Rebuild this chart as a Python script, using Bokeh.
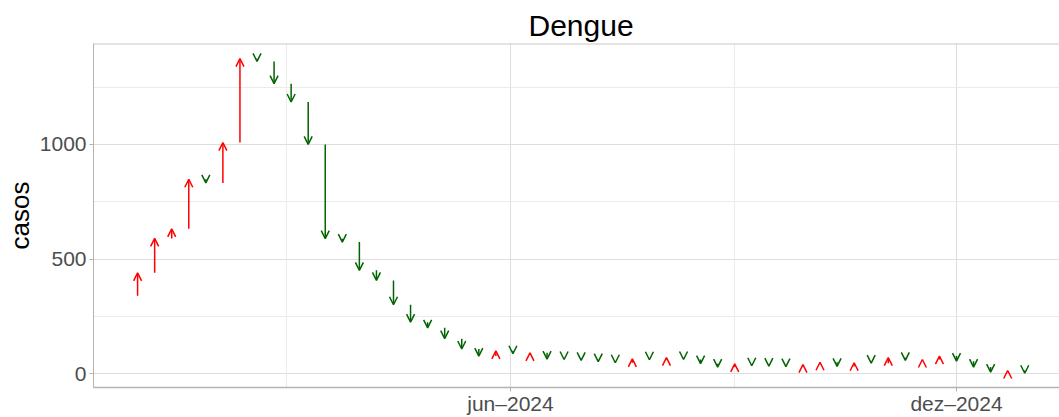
import pandas as pd
from bokeh.plotting import figure
from bokeh.models import ColumnDataSource, Arrow, OpenHead, FixedTicker, Span, Range1d
from bokeh.embed import file_html
from bokeh.resources import INLINE

# ---- data ----
first_week = "2023-12-31"
previous_week_cases = 340
cases = [440, 590, 632, 848, 832, 1008, 1374, 1362, 1265, 1185,
         1000, 589, 574, 451, 407, 301, 225, 200, 153, 108,
         77, 100, 87, 91, 64, 62, 58, 53, 48, 65,
         61, 70, 62, 44, 29, 43, 35, 33, 31, 40,
         50, 32, 48, 46, 70, 58, 62, 77, 55, 29,
         7, 14, 2]
x_tick_dates = ["2024-06-01", "2024-12-01"]
x_tick_labels = ["jun–2024", "dez–2024"]
x_minor_dates = ["2024-03-01", "2024-09-01"]
y_ticks = [0, 500, 1000]
y_minor_ticks = [250, 750, 1250]

weeks = pd.date_range(first_week, periods=len(cases), freq="7D")
starts = [previous_week_cases] + cases[:-1]

def ms(d):
    return pd.Timestamp(d).value / 1e6

up = dict(x=[], y0=[], y1=[])
down = dict(x=[], y0=[], y1=[])
for d, a, b in zip(weeks, starts, cases):
    t = up if b > a else down
    t["x"].append(ms(d)); t["y0"].append(a); t["y1"].append(b)

day = 86400000.0
x0 = ms(first_week)
p = figure(width=1059, height=417, x_axis_type="datetime",
           output_backend="svg", toolbar_location=None,
           x_range=Range1d(x0 - 18.09 * day, x0 + 378.26 * day),
           y_range=Range1d(-60, 1440),
           min_border_left=93, min_border_right=0, min_border_top=43, min_border_bottom=0)
p.background_fill_color = "white"
p.border_fill_color = "white"
p.outline_line_color = None

p.title.text = "Dengue"
p.title.align = "left"
p.title.offset = 435
p.title.text_font = "Liberation Sans"
p.title.text_font_size = "30px"
p.title.text_font_style = "normal"
p.title.text_color = "black"
p.title.standoff = 4

xt = FixedTicker(ticks=[ms(d) for d in x_tick_dates], minor_ticks=[ms(d) for d in x_minor_dates])
yt = FixedTicker(ticks=y_ticks, minor_ticks=y_minor_ticks)
p.xaxis.ticker = xt
p.yaxis.ticker = yt
p.xgrid.ticker = xt
p.ygrid.ticker = yt
p.xaxis.major_label_overrides = {ms(d): l for d, l in zip(x_tick_dates, x_tick_labels)}

for ax in (p.xaxis, p.yaxis):
    ax.axis_line_color = "#b3b3b3"
    ax.major_tick_line_color = "#b3b3b3"
    ax.major_tick_out = 4
    ax.major_tick_in = 0
    ax.minor_tick_line_color = None
    ax.minor_tick_out = 0
    ax.minor_tick_in = 0
    ax.major_label_text_font = "Liberation Sans"
    ax.major_label_text_font_size = "21px"
    ax.major_label_text_color = "#4d4d4d"
    ax.major_label_standoff = 3
p.xaxis.axis_line_width = 1.5
p.xaxis.axis_label = None
p.xaxis.axis_label_standoff = 0
p.xaxis.major_label_standoff = 0
p.yaxis.axis_label = "casos"
p.yaxis.axis_label_text_font = "Liberation Sans"
p.yaxis.axis_label_text_font_size = "26px"
p.yaxis.axis_label_text_font_style = "normal"
p.yaxis.axis_label_text_color = "black"
p.yaxis.axis_label_standoff = 2

for g in (p.xgrid, p.ygrid):
    g.grid_line_color = "#dedede"
    g.grid_line_width = 1
    g.minor_grid_line_color = "#ebebeb"
    g.minor_grid_line_width = 1

p.add_layout(Span(location=1440, dimension="width", line_color="#c8c8c8", line_width=2))

for data, color in ((up, "red"), (down, "darkgreen")):
    src = ColumnDataSource(data)
    p.add_layout(Arrow(end=OpenHead(size=8, line_color=color, line_width=1.5),
                       x_start="x", y_start="y0", x_end="x", y_end="y1",
                       line_color=color, line_width=1.5, source=src))

open("out.html", "w").write(file_html(p, INLINE))
